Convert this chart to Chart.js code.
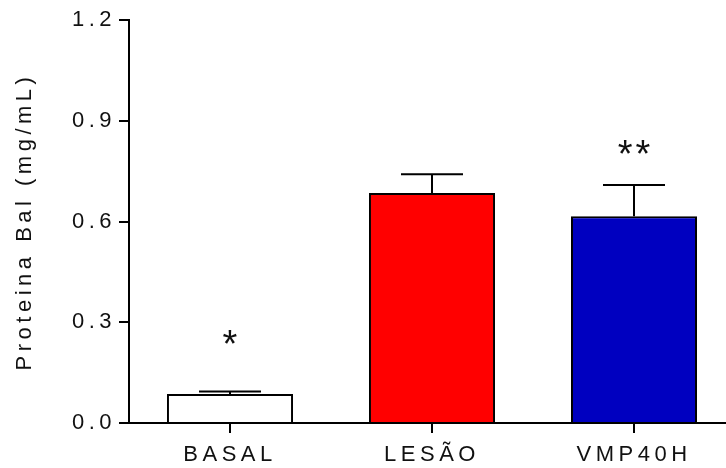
<!DOCTYPE html>
<html>
<head>
<meta charset="utf-8">
<script src="https://cdn.jsdelivr.net/npm/chart.js@4"></script>
<style>
  html, body { margin: 0; padding: 0; overflow: hidden; background: #ffffff; }
  #wrap { width: 740px; height: 468px; }
</style>
</head>
<body>
<div id="wrap"><canvas id="c" width="740" height="468"></canvas></div>
<script>
// Groups and measured protein in BAL fluid (mean and SEM, mg/mL)
const groups = ['BASAL', 'LESÃO', 'VMP40H'];
const means = [0.086, 0.685, 0.616];
const sems = [0.008, 0.056, 0.093];
const fills = ['#ffffff', '#ff0000', '#0000c0'];

// Significance marks and the value level at which each is centred
const marks = ['*', '', '**'];
const markLevels = [0.245, null, 0.813];

// Y axis ticks
const yTicks = [0, 0.3, 0.6, 0.9, 1.2];

const FONT = "'Liberation Sans', Arial, sans-serif";
const SPACING = '4.5px';
const TEXT_SIZE = 22;
const MARK_SIZE = 38;

Chart.defaults.font.family = FONT;
Chart.defaults.font.size = TEXT_SIZE;
Chart.defaults.color = '#111111';

// Wide letter spacing on every text drawn by the chart
const spacingPlugin = {
  id: 'spacing',
  beforeLayout(chart) { chart.ctx.letterSpacing = SPACING; },
  beforeDraw(chart) { chart.ctx.letterSpacing = SPACING; }
};

// Upper error bars (mean + SEM) with caps, and significance marks
const errorPlugin = {
  id: 'errors',
  afterDatasetsDraw(chart) {
    const ctx = chart.ctx;
    const meta = chart.getDatasetMeta(0);
    const y = chart.scales.y;
    ctx.save();
    ctx.strokeStyle = '#000000';
    ctx.lineWidth = 2;
    meta.data.forEach((bar, i) => {
      const x = bar.x;
      const yb = y.getPixelForValue(means[i]);
      const yt = y.getPixelForValue(means[i] + sems[i]);
      ctx.beginPath();
      ctx.moveTo(x, yb);
      ctx.lineTo(x, yt);
      ctx.moveTo(x - 31, yt);
      ctx.lineTo(x + 31, yt);
      ctx.stroke();
      if (marks[i]) {
        ctx.font = MARK_SIZE + 'px ' + FONT;
        ctx.letterSpacing = '3px';
        ctx.fillStyle = '#111111';
        ctx.textAlign = 'center';
        ctx.textBaseline = 'alphabetic';
        // the asterisk glyph sits well above the baseline
        ctx.fillText(marks[i], x + 1.5, y.getPixelForValue(markLevels[i]) + 0.44 * MARK_SIZE);
      }
    });
    ctx.restore();
  }
};

new Chart(document.getElementById('c'), {
  type: 'bar',
  data: {
    labels: groups,
    datasets: [{
      data: means,
      backgroundColor: fills,
      borderColor: '#000000',
      borderWidth: 2,
      barPercentage: 0.624,
      categoryPercentage: 1.0
    }]
  },
  options: {
    responsive: false,
    animation: false,
    devicePixelRatio: 1,
    layout: { padding: { top: 20, right: 5, left: 0, bottom: 0 } },
    plugins: { legend: { display: false }, tooltip: { enabled: false } },
    scales: {
      x: {
        offset: true,
        border: { color: '#000000', width: 2 },
        grid: { offset: false, drawOnChartArea: false, drawTicks: true, tickLength: 10, tickColor: '#000000', lineWidth: 2 },
        ticks: { padding: 9, maxRotation: 0, autoSkip: false, font: { size: TEXT_SIZE } },
        afterFit(s) { s.height = 45; }
      },
      y: {
        min: 0,
        max: 1.2,
        border: { color: '#000000', width: 2 },
        grid: { drawOnChartArea: false, drawTicks: true, tickLength: 10, tickColor: '#000000', lineWidth: 2 },
        afterBuildTicks(s) { s.ticks = yTicks.map(v => ({ value: v })); },
        ticks: { padding: 3, font: { size: TEXT_SIZE }, callback: v => Number(v).toFixed(1) },
        title: { display: true, text: 'Proteina Bal (mg/mL)', font: { size: TEXT_SIZE }, padding: { top: 12, bottom: 0 } },
        afterFit(s) { s.width = 129; }
      }
    }
  },
  plugins: [spacingPlugin, errorPlugin]
});
</script>
</body>
</html>
